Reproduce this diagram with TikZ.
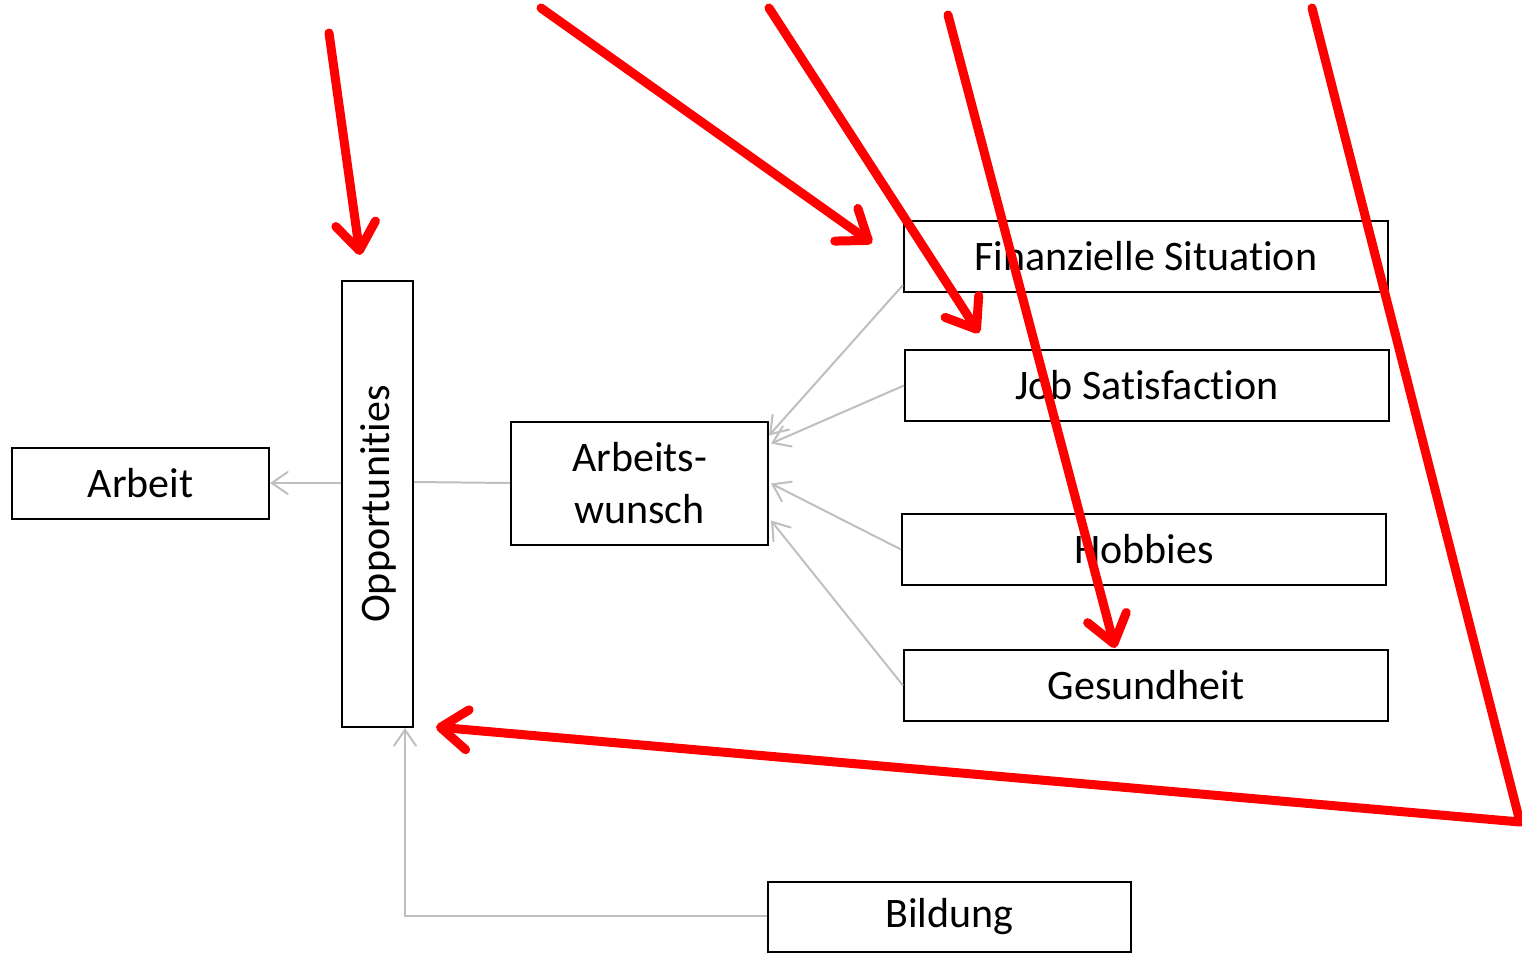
\documentclass[tikz,border=0pt]{standalone}
\usepackage{fontspec}
\setmainfont{Carlito}[Ligatures=NoCommon]
\usetikzlibrary{arrows.meta}
\tikzset{
  box/.style={draw=black, line width=2pt, rectangle, inner sep=0pt, align=center,
    font=\fontsize{42}{52}\selectfont},
  conn/.style={draw=black!25, line width=2pt},
  connarrow/.style={conn, -{Straight Barb[length=16pt,width=22pt,line cap=round]}},
  redarrow/.style={draw=red, line width=9pt, line cap=round, line join=round,
    -{Straight Barb[length=27pt,width=40pt,line cap=round,line join=round]}}
}
\begin{document}
\begin{tikzpicture}[x=1pt,y=-1pt]
\useasboundingbox (0,0) rectangle (1522,953);
% nodes
\node[box, minimum width=257pt, minimum height=71pt] (arbeit) at (140.5,483.5) {Arbeit};
\node[box, minimum width=71pt, minimum height=446pt] (opp) at (377.5,504) {};
\node[rotate=90, font=\fontsize{42}{52}\selectfont, inner sep=0pt] (opptext) at (378.5,504) {Opportunities};
\node[box, minimum width=257pt, minimum height=123pt] (wish) at (639.5,483.5) {Arbeits-\\wunsch};
\node[box, minimum width=484pt, minimum height=71pt] (fin) at (1146,256.5) {Finanzielle Situation};
\node[box, minimum width=484pt, minimum height=71pt] (job) at (1147,385.5) {Job Satisfaction};
\node[box, minimum width=484pt, minimum height=71pt] (hob) at (1144,549.5) {Hobbies};
\node[box, minimum width=484pt, minimum height=71pt] (ges) at (1146,685.5) {Gesundheit};
\node[box, minimum width=363pt, minimum height=70pt] (bild) at (949.5,917) {Bildung};
% grey connectors
\draw[connarrow] (opp.west |- 0,483) -- (arbeit.east |- 0,483);
\draw[conn] (opp.east |- 0,482) -- (wish.west |- 0,483);
\draw[connarrow] ([yshift=8pt]fin.south west) -- ([yshift=48pt]wish.east);
\draw[connarrow] (job.west) -- ([xshift=2pt,yshift=40pt]wish.east);
\draw[connarrow] (hob.west) -- ([xshift=2pt]wish.east);
\draw[connarrow] (ges.west) -- ([xshift=2pt,yshift=-37pt]wish.east);
\coordinate (bcorner) at (405,916);
\draw[connarrow] (bild.west |- bcorner) -- (bcorner) -- (bcorner |- opp.south);
% red arrows
\coordinate (r1s) at (329,33);
\coordinate (r1e) at (360,255);
\coordinate (r2s) at (541,8);
\coordinate (r2e) at (872,243);
\coordinate (r3s) at (769,8);
\coordinate (r3e) at (979,333);
\coordinate (r4s) at (948,15);
\coordinate (r4e) at (1115,648);
\coordinate (r5s) at (1312,8);
\coordinate (r5c) at (1520,822);
\coordinate (r5e) at (436,727);
\draw[redarrow] (r1s) -- (r1e);
\draw[redarrow] (r2s) -- (r2e);
\draw[redarrow] (r3s) -- (r3e);
\draw[redarrow] (r4s) -- (r4e);
\draw[redarrow] (r5s) -- (r5c) -- (r5e);
\end{tikzpicture}
\end{document}
